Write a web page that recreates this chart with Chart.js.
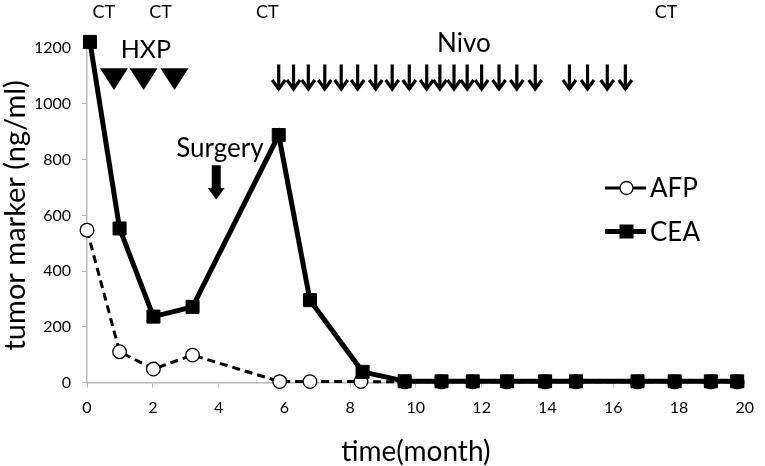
<!DOCTYPE html>
<html><head><meta charset="utf-8">
<script src="https://cdn.jsdelivr.net/npm/chart.js@4.4.1/dist/chart.umd.min.js"></script>
<style>html,body{margin:0;padding:0;background:#fff}#wrap{width:765px;height:466px;position:relative}</style>
</head><body><div id="wrap"><canvas id="c"></canvas></div>
<script>
// ---- data ----
const seriesNames = ['AFP', 'CEA'];
const afpTime  = [0, 0.99, 2.02, 3.21, 5.86, 6.78, 8.33, 9.66, 10.78, 11.73, 12.77, 13.93, 14.87, 16.74, 17.87, 18.97, 19.77];
const afpValue = [547, 111, 49, 99, 4, 4, 4, 3, 3, 3, 3, 3, 3, 3, 3, 3, 3];
const ceaTime  = [0.09, 0.99, 2.02, 3.21, 5.83, 6.78, 8.38, 9.66, 10.78, 11.73, 12.77, 13.93, 14.87, 16.74, 17.87, 18.97, 19.77];
const ceaValue = [1222, 553, 237, 272, 888, 296, 39, 5, 5, 5, 5, 5, 5, 5, 5, 5, 5];
const xTickValues = [0, 2, 4, 6, 8, 10, 12, 14, 16, 18, 20];
const yTickValues = [0, 200, 400, 600, 800, 1000, 1200];
const xTitle = 'time(month)';
const yTitle = 'tumor marker (ng/ml)';
// event annotations (time in months)
const ctLabel = 'CT';
const ctTimes = [0.51, 2.24, 5.48, 17.61];
const hxpLabel = 'HXP';
const hxpTimes = [0.82, 1.72, 2.66];
const nivoLabel = 'Nivo';
const nivoTimes = [5.83, 6.28, 6.73, 7.23, 7.73, 8.23, 8.78, 9.28, 9.80, 10.33, 10.73, 11.16, 11.56, 12.00, 12.53, 13.07, 13.63, 14.67, 15.22, 15.82, 16.37];
const surgeryLabel = 'Surgery';
const surgeryTime = 3.93;

const FONT = 'Lato, "Open Sans", "DejaVu Sans", sans-serif';
const AXIS = '#b8b8b8';

function toPts(xs, ys) { return xs.map((x, i) => ({x: x, y: ys[i]})); }

const annotPlugin = {
  id: 'annot',
  afterDraw(chart) {
    const ctx = chart.ctx, xs = chart.scales.x, ys = chart.scales.y;
    const X = t => xs.getPixelForValue(t), Y = v => ys.getPixelForValue(v);
    ctx.save();
    ctx.fillStyle = '#000'; ctx.strokeStyle = '#000';
    // CT labels
    ctx.font = '18px ' + FONT; ctx.textAlign = 'center'; ctx.textBaseline = 'middle';
    ctTimes.forEach(t => ctx.fillText(ctLabel, X(t), Y(1330)));
    // HXP
    ctx.font = '25px ' + FONT;
    ctx.fillText(hxpLabel, X(1.79), Y(1192));
    hxpTimes.forEach(t => {
      const cx = X(t);
      ctx.beginPath();
      ctx.moveTo(cx - 14, Y(1127)); ctx.lineTo(cx + 14, Y(1127)); ctx.lineTo(cx, Y(1049));
      ctx.closePath(); ctx.fill();
    });
    // Nivo
    ctx.font = '26px ' + FONT;
    ctx.fillText(nivoLabel, X(11.46), Y(1216));
    ctx.lineWidth = 3.2; ctx.lineCap = 'butt'; ctx.lineJoin = 'miter';
    nivoTimes.forEach(t => {
      const cx = X(t), top = Y(1141), tip = Y(1046);
      ctx.beginPath(); ctx.moveTo(cx, top); ctx.lineTo(cx, tip - 2); ctx.stroke();
      ctx.beginPath(); ctx.moveTo(cx - 6.5, tip - 11); ctx.lineTo(cx, tip - 2); ctx.lineTo(cx + 6.5, tip - 11); ctx.stroke();
    });
    // Surgery
    ctx.font = '26px ' + FONT; ctx.textBaseline = 'alphabetic';
    ctx.fillText(surgeryLabel, X(4.04), Y(810));
    {
      const cx = X(surgeryTime), top = Y(780), hs = Y(698), tip = Y(657);
      ctx.beginPath();
      ctx.moveTo(cx - 4.5, top); ctx.lineTo(cx + 4.5, top); ctx.lineTo(cx + 4.5, hs);
      ctx.lineTo(cx + 8.5, hs); ctx.lineTo(cx, tip); ctx.lineTo(cx - 8.5, hs); ctx.lineTo(cx - 4.5, hs);
      ctx.closePath(); ctx.fill();
    }
    // legend
    const rows = [{ds: chart.data.datasets[0], y: 188}, {ds: chart.data.datasets[1], y: 231.5}];
    ctx.font = '26px ' + FONT; ctx.textAlign = 'left'; ctx.textBaseline = 'middle';
    rows.forEach(r => {
      const ds = r.ds;
      ctx.lineWidth = ds.borderWidth; ctx.setLineDash([]);
      ctx.beginPath(); ctx.moveTo(605, r.y); ctx.lineTo(646, r.y); ctx.stroke();
      if (ds.pointStyle === 'rect') {
        ctx.fillStyle = '#000'; ctx.fillRect(619.5, r.y - 7, 14, 14);
      } else {
        ctx.fillStyle = '#fff'; ctx.lineWidth = 1.3;
        ctx.beginPath(); ctx.arc(626.5, r.y, 6.5, 0, Math.PI * 2); ctx.fill(); ctx.stroke();
      }
      ctx.fillStyle = '#000';
      ctx.fillText(ds.label, 650, r.y + 1);
    });
    ctx.restore();
  }
};

new Chart(document.getElementById('c'), {
  type: 'line',
  data: {
    datasets: [
      { label: seriesNames[0], data: toPts(afpTime, afpValue), order: 1,
        borderColor: '#000', borderWidth: 3, borderDash: [8, 5], fill: false, tension: 0,
        pointStyle: 'circle', pointRadius: 6.8, pointBackgroundColor: '#fff', pointBorderColor: '#000',
        pointBorderWidth: 1.3, clip: false },
      { label: seriesNames[1], data: toPts(ceaTime, ceaValue), order: 0,
        borderColor: '#000', borderWidth: 5, fill: false, tension: 0,
        pointStyle: 'rect', pointRadius: 9.2, pointBackgroundColor: '#000', pointBorderColor: '#000',
        pointBorderWidth: 1, clip: false }
    ]
  },
  options: {
    responsive: true, maintainAspectRatio: false, animation: false,
    layout: { padding: { top: 48, right: 10.6, left: 0, bottom: 0 } },
    plugins: { legend: { display: false }, tooltip: { enabled: false } },
    scales: {
      x: {
        type: 'linear', min: 0, max: 20,
        afterBuildTicks: s => { s.ticks = xTickValues.map(v => ({value: v})); },
        afterFit: s => { s.height = 83.3; },
        grid: { display: true, drawOnChartArea: false, drawTicks: true, tickLength: 5, color: AXIS, lineWidth: 1 },
        border: { color: AXIS, width: 1.5 },
        ticks: { color: '#000', font: { family: FONT, size: 16 }, padding: 11, maxRotation: 0, autoSkip: false,
                 callback: v => String(v) },
        title: { display: true, text: xTitle, color: '#000', font: { family: FONT, size: 28, lineHeight: 1 }, padding: { top: 0, bottom: 0 } }
      },
      y: {
        min: 0, max: 1200,
        afterBuildTicks: s => { s.ticks = yTickValues.map(v => ({value: v})); },
        afterFit: s => { s.width = 87; },
        grid: { display: true, drawOnChartArea: false, drawTicks: true, tickLength: 5, color: AXIS, lineWidth: 1 },
        border: { color: AXIS, width: 1.5 },
        ticks: { color: '#000', font: { family: FONT, size: 16 }, padding: 11, callback: v => String(v) },
        title: { display: true, text: yTitle, color: '#000', font: { family: FONT, size: 29, lineHeight: 1 }, padding: { top: 1, bottom: 0 } }
      }
    }
  },
  plugins: [annotPlugin]
});
</script></body></html>
